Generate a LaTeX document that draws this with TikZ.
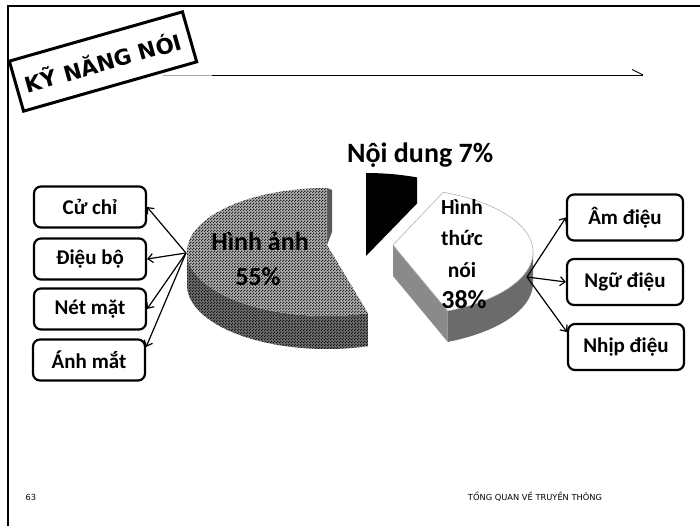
\documentclass[tikz,border=0pt]{standalone}
\usepackage{fontspec}
\setmainfont{Carlito}
\newfontfamily\titlefont{DejaVu Sans}
\usetikzlibrary{patterns,arrows.meta,calc}

% fine checker texture for the top of the large slice
\pgfdeclarepatternformonly{finecheck}{\pgfqpoint{0pt}{0pt}}{\pgfqpoint{3pt}{3pt}}{\pgfqpoint{3pt}{3pt}}{%
  \pgfpathrectangle{\pgfqpoint{0pt}{0pt}}{\pgfqpoint{1.5pt}{1.5pt}}%
  \pgfpathrectangle{\pgfqpoint{1.5pt}{1.5pt}}{\pgfqpoint{1.5pt}{1.5pt}}%
  \pgfusepath{fill}}
% fine dot texture for its side wall
\pgfdeclarepatternformonly{finedots}{\pgfqpoint{0pt}{0pt}}{\pgfqpoint{3pt}{3pt}}{\pgfqpoint{3pt}{3pt}}{%
  \pgfpathcircle{\pgfqpoint{0.75pt}{0.75pt}}{0.8pt}%
  \pgfpathcircle{\pgfqpoint{2.25pt}{2.25pt}}{0.8pt}%
  \pgfusepath{fill}}

\begin{document}
\begin{tikzpicture}[x=1pt,y=-1pt,
  box/.style={draw, line width=2.2pt, rounded corners=7pt, fill=white,
    minimum width=112pt, minimum height=41pt, inner sep=0pt,
    font=\bfseries\fontsize{21}{24}\selectfont},
  rbox/.style={box, minimum width=116pt, minimum height=46pt},
  link/.style={line width=1.2pt, -{Straight Barb[length=5pt,width=9pt]}},
  pielabel/.style={anchor=base, inner sep=0pt, font=\bfseries\fontsize{26}{30}\selectfont},
  smalllabel/.style={anchor=base, inner sep=0pt, font=\bfseries\fontsize{21.5}{24}\selectfont},
  footer/.style={inner sep=0pt, font=\titlefont\fontsize{8.3}{10}\selectfont},
]
\useasboundingbox (0,0) rectangle (700,526);

% slide frame
\draw[line width=2.5pt] (8,526) -- (8,6) -- (700,6);

% rule under the title with its end tick
\draw[line width=0.9pt, black!35] (163,75) -- (212,75);
\draw[line width=0.9pt] (212,75) -- (643,75);
\draw[line width=0.9pt] (632,69.5) -- (643,75);

% title tag
\node[draw, line width=3pt, fill=white, rotate=15.9, minimum width=180pt,
  minimum height=52pt, inner sep=0pt,
  font=\titlefont\bfseries\fontsize{21.5}{24}\selectfont] (title) at (103,61.5) {KỸ NĂNG NÓI};

% pie geometry: ellipse radii of the top face
\def\pieRa{140}\def\pieRb{64}

% ---- large slice (Hình ảnh) ----
\def\bigX{327}\def\bigY{252}\def\bigDepth{33}
\path[fill=black!58, postaction={pattern=finedots, pattern color=black}]
  plot[domain=180:287, samples=50] ({\bigX+\pieRa*cos(\x)},{\bigY-\pieRb*sin(\x)})
  -- plot[domain=287:180, samples=50] ({\bigX+\pieRa*cos(\x)},{\bigY+\bigDepth-\pieRb*sin(\x)}) -- cycle;
\fill[black!65] (327,188) -- (332,190) -- (332,232) -- (327,245) -- cycle;
\path[fill=black!30, postaction={pattern=finecheck, pattern color=black!85}]
  (\bigX,245) -- plot[domain=90:287, samples=80] ({\bigX+\pieRa*cos(\x)},{\bigY-\pieRb*sin(\x)}) -- cycle;

% ---- small slice (Nội dung) ----
\def\smlX{366}\def\smlY{237}
\fill (366,230) -- plot[domain=90:68.6, samples=20] ({\smlX+\pieRa*cos(\x)},{\smlY-\pieRb*sin(\x)})
  -- ++(0,26) -- (366,256) -- cycle;

% ---- medium slice (Hình thức nói) ----
\def\midX{393}\def\midY{252}\def\midDepth{31}
\fill[black!46] (\midX,245) -- ({\midX+\pieRa*cos(-67)},{\midY-\pieRb*sin(-67)})
  -- ++(0,\midDepth) -- (\midX,245+\midDepth) -- cycle;
\fill[black!58]
  plot[domain=-67:0, samples=40] ({\midX+\pieRa*cos(\x)},{\midY-\pieRb*sin(\x)})
  -- plot[domain=0:-67, samples=40] ({\midX+\pieRa*cos(\x)},{\midY+\midDepth-\pieRb*sin(\x)}) -- cycle;
\draw[fill=white, draw=black!30, line width=0.6pt]
  (\midX,245) -- plot[domain=-67:69, samples=80] ({\midX+\pieRa*cos(\x)},{\midY-\pieRb*sin(\x)}) -- cycle;

% slice labels
\node[pielabel] (imgA) at (260,250.5) {Hình ảnh};
\node[pielabel] (imgB) at (258,285) {55\%};
\node[anchor=base west, inner sep=0pt, font=\bfseries\fontsize{28}{32}\selectfont] (cont) at (347,163) {Nội dung 7\%};
\node[smalllabel] (frmA) at (462,215) {Hình};
\node[smalllabel] (frmB) at (462,245) {thức};
\node[smalllabel] (frmC) at (462,277) {nói};
\node[pielabel] (frmD) at (464,308) {38\%};

% left boxes
\node[box] (b1) at (90,207) {Cử chỉ};
\node[box] (b2) at (90,259) {Điệu bộ};
\node[box] (b3) at (90,309) {Nét mặt};
\node[box] (b4) at (89,360) {Ánh mắt};

% right boxes
\node[rbox] (r1) at (625,217.5) {Âm điệu};
\node[rbox] (r2) at (625,282) {Ngữ điệu};
\node[rbox] (r3) at (626,347) {Nhịp điệu};

% connectors
\coordinate (lsrc) at (186,253);
\coordinate (rsrc) at (527,277);
\draw[link] (lsrc) -- (b1.east);
\draw[link] (lsrc) -- (b2.east);
\draw[link] (lsrc) -- (b3.east);
\draw[link] (lsrc) -- ([yshift=13pt]b4.east);
\draw[link] (rsrc) -- (r1.west);
\draw[link] (rsrc) -- (r2.west);
\draw[link] (rsrc) -- ([yshift=15pt]r3.west);

% footer
\node[footer] (pg) at (31,497) {63};
\node[footer] (ft) at (535,497) {TỔNG QUAN VỀ TRUYỀN THÔNG};
\end{tikzpicture}
\end{document}
